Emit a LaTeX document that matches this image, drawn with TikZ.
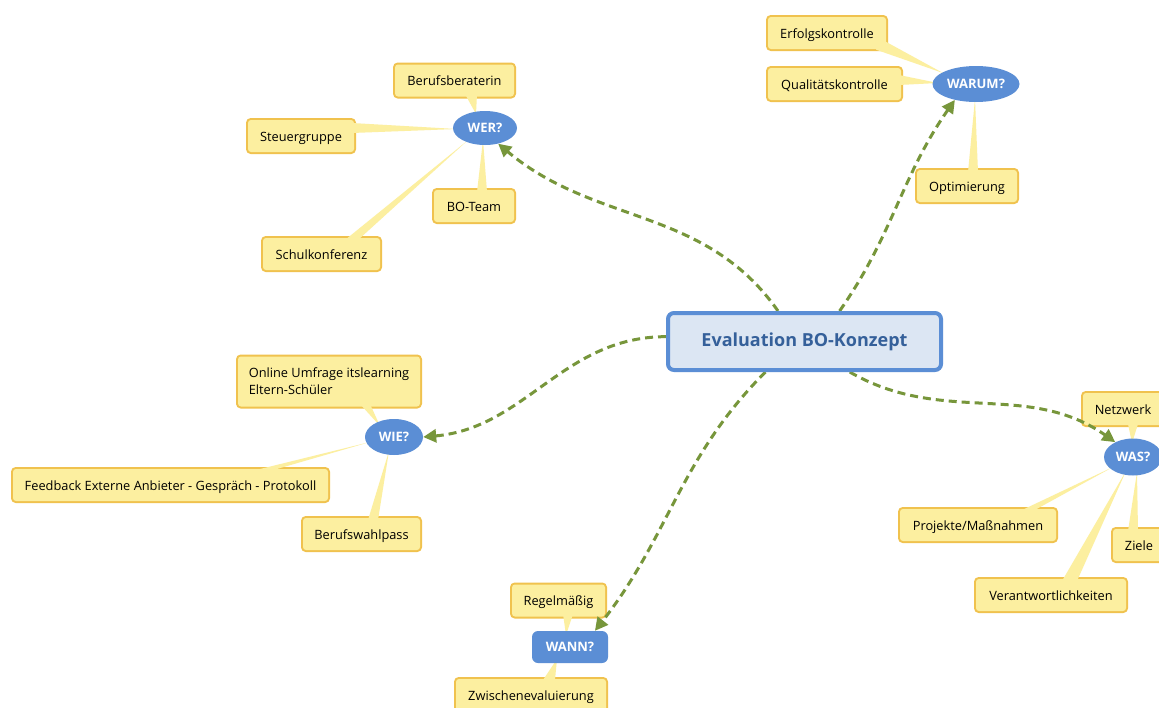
\documentclass[tikz,border=0pt]{standalone}
\usepackage{fontspec}
\setmainfont{Open Sans}
\usetikzlibrary{arrows.meta,calc,shapes.geometric}
\pgfdeclarelayer{back}\pgfdeclarelayer{front}
\pgfsetlayers{back,main,front}
\definecolor{yfill}{HTML}{FCEFA0}
\definecolor{yline}{HTML}{F0C24E}
\definecolor{tblue}{HTML}{5B8ED5}
\definecolor{cfill}{HTML}{DCE6F3}
\definecolor{ctext}{HTML}{35609A}
\definecolor{agreen}{HTML}{77963B}
\tikzset{
 callbase/.style={rectangle, rounded corners=3pt, fill=yfill, preaction={draw=yline, line width=4pt}, minimum height=32pt, inner xsep=6pt, inner ysep=2pt, font=\fontsize{12.8}{17}\selectfont, text=black},
 callout/.style={callbase, text height=13.4pt, text depth=3pt},
 topic/.style={ellipse, fill=tblue, text=white, font=\bfseries\fontsize{13}{15}\selectfont, inner sep=0pt},
 link/.style={draw=agreen, line width=3pt, dash pattern=on 8pt off 5pt, -{Triangle[length=13pt,width=13pt]}},
 centerbox/.style={rectangle, rounded corners=6pt, draw=tblue, line width=4pt, fill=cfill, text=ctext, font=\bfseries\fontsize{18}{21}\selectfont, minimum width=273pt, minimum height=57pt},
}
\newcommand\tl[3]{%
 \begin{pgfonlayer}{back}\draw[yline, line width=4pt, line join=round] #1 -- #2 -- #3 -- cycle;\end{pgfonlayer}
 \fill[yfill] #1 -- #2 -- #3 -- cycle;}
\begin{document}
\begin{tikzpicture}[x=1pt,y=1pt]
\useasboundingbox (0,0) rectangle (1159,-707);
\fill[white] (0,0) rectangle (1159,-707);
% topics and center (front)
\begin{pgfonlayer}{front}
\node[centerbox] (c) at (804.5,-341.5) {Evaluation BO-Konzept};
\node[topic, minimum width=64pt, minimum height=34pt] (wer) at (485,-128) {WER?};
\node[topic, minimum width=87pt, minimum height=36pt] (warum) at (976,-84) {WARUM?};
\node[topic, minimum width=58pt, minimum height=36pt] (wie) at (394,-437) {WIE?};
\node[topic, minimum width=58pt, minimum height=37pt] (was) at (1133,-457) {WAS?};
\node[topic, rectangle, rounded corners=6pt, minimum width=76pt, minimum height=32pt] (wann) at (570,-647) {WANN?};
\end{pgfonlayer}
% callout boxes
\node[callout, minimum width=119pt] (bb) at (454.5,-80.5) {Berufsberaterin};
\node[callout, minimum width=106pt] (sg) at (301,-136) {Steuergruppe};
\node[callout, minimum width=80pt] (bo) at (474,-206) {BO-Team};
\node[callout, minimum width=117pt] (sk) at (321.5,-254) {Schulkonferenz};
\node[callout, minimum width=118pt] (ek) at (827,-33) {Erfolgskontrolle};
\node[callout, minimum width=133pt] (qk) at (834.5,-84) {Qualitätskontrolle};
\node[callout, minimum width=100pt] (op) at (967,-186) {Optimierung};
\node[callbase, minimum width=182pt, minimum height=50pt, align=left] (ou) at (329,-381.5) {Online Umfrage itslearning\\Eltern-Schüler};
\node[callout, minimum width=315pt] (fb) at (170.5,-485) {Feedback Externe Anbieter - Gespräch - Protokoll};
\node[callout, minimum width=117pt] (bw) at (361.5,-534) {Berufswahlpass};
\node[callout, minimum width=80pt] (nw) at (1123,-409) {Netzwerk};
\node[callout, minimum width=156pt] (pm) at (978,-525) {Projekte/Maßnahmen};
\node[callout, minimum width=52pt] (zi) at (1139,-545) {Ziele};
\node[callout, minimum width=150pt] (vw) at (1051,-595) {Verantwortlichkeiten};
\node[callout, minimum width=93pt] (rg) at (558.5,-600.5) {Regelmäßig};
\node[callout, minimum width=150pt] (zw) at (531,-695) {Zwischenevaluierung};
% tails
\tl{($(bb)+(10.5,-13.5)$)}{($(bb)+(22.5,-13.5)$)}{($(wer)+(-9,14)$)}
\tl{($(sg)+(51,13)$)}{($(sg)+(51,3)$)}{($(wer)+(-28,-1)$)}
\tl{($(bo)+(3,14)$)}{($(bo)+(13,14)$)}{($(wer)+(-2,-12)$)}
\tl{($(sk)+(23.5,14)$)}{($(sk)+(36.5,14)$)}{($(wer)+(-18,-13)$)}
\tl{($(ek)+(57.5,-8)$)}{($(ek)+(49,-16.7)$)}{($(warum)+(-33,11)$)}
\tl{($(qk)+(64.5,9)$)}{($(qk)+(64.5,-1)$)}{($(warum)+(-38,1)$)}
\tl{($(op)+(1,14)$)}{($(op)+(11,14)$)}{($(warum)+(-1,-15)$)}
\tl{($(ou)+(31,-22.5)$)}{($(ou)+(41,-22.5)$)}{($(wie)+(-14,11)$)}
\tl{($(fb)+(81.5,14)$)}{($(fb)+(99.5,14)$)}{($(wie)+(-24,-5)$)}
\tl{($(bw)+(6.5,14)$)}{($(bw)+(16.5,14)$)}{($(wie)+(-5,-14)$)}
\tl{($(nw)+(5,-15)$)}{($(nw)+(15,-15)$)}{($(was)+(-1,14)$)}
\tl{($(pm)+(42,14)$)}{($(pm)+(55,14)$)}{($(was)+(-20,-10)$)}
\tl{($(zi)+(-11,14)$)}{($(zi)+(-1,14)$)}{($(was)+(4,-15)$)}
\tl{($(vw)+(11,14)$)}{($(vw)+(26,14)$)}{($(was)+(-7,-14)$)}
\tl{($(rg)+(4.5,-13.5)$)}{($(rg)+(14.5,-13.5)$)}{($(wann)+(-4,12)$)}
\tl{($(zw)+(12,15)$)}{($(zw)+(24,15)$)}{($(wann)+(-13,-12)$)}
% connectors
\draw[link] (c.131) to[out=125,in=-40] (wer.-50);
\draw[link] (c.41) to[out=55,in=-125] (warum.217);
\draw[link] (c.178) to[out=180,in=5] (wie.east);
\draw[link] (c.-34) to[out=-30,in=145] (was.140);
\draw[link] (c.218) to[out=225,in=52] (wann.33);
\end{tikzpicture}
\end{document}
